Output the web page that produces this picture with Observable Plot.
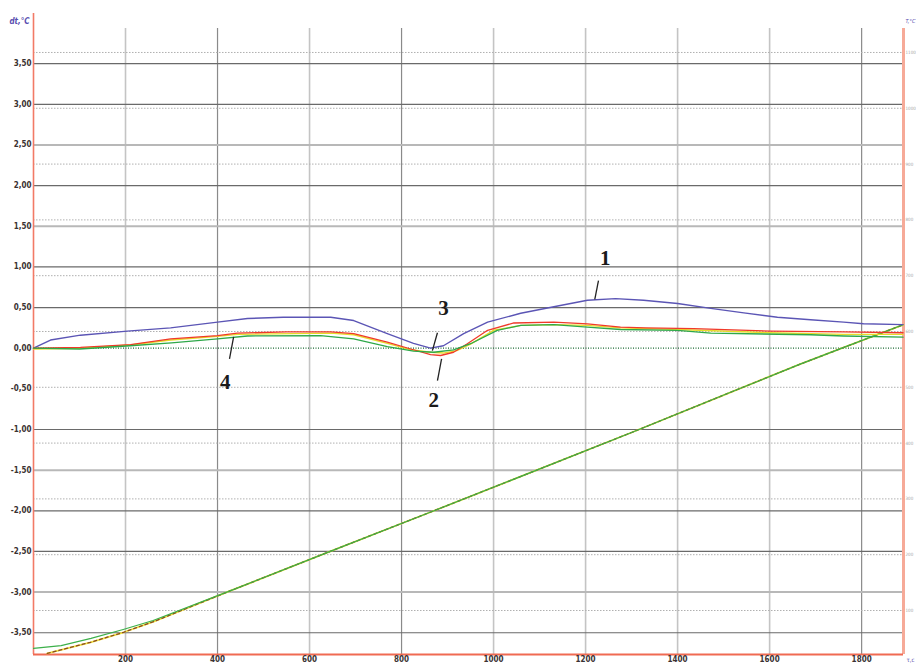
<!DOCTYPE html>
<html>
<head>
<meta charset="utf-8">
<script src="https://cdn.jsdelivr.net/npm/d3@7"></script>
<script src="https://cdn.jsdelivr.net/npm/@observablehq/plot@0.6"></script>
<style>
  html, body { margin: 0; padding: 0; background: #fff; }
  #chart { width: 916px; height: 665px; overflow: hidden; }
</style>
</head>
<body>
<div id="chart"></div>
<script>
// ---- DTA curves (time, s ; dt, °C) ----
const blueS = [0, 37, 102, 204, 298, 400, 465, 543, 646, 696, 769, 826, 863, 891, 935, 987, 1059, 1131, 1204, 1265, 1326, 1400, 1472, 1544, 1617, 1689, 1761, 1804, 1890];
const blueV = [0.00, 0.10, 0.16, 0.21, 0.25, 0.32, 0.365, 0.38, 0.38, 0.34, 0.18, 0.06, 0.00, 0.03, 0.18, 0.32, 0.43, 0.51, 0.59, 0.61, 0.59, 0.55, 0.49, 0.435, 0.38, 0.35, 0.32, 0.30, 0.29];

const redS = [0, 102, 211, 298, 400, 443, 550, 646, 696, 769, 820, 863, 885, 913, 943, 987, 1044, 1131, 1204, 1276, 1330, 1435, 1602, 1761, 1890];
const redV = [0.00, 0.01, 0.045, 0.115, 0.155, 0.185, 0.20, 0.20, 0.18, 0.075, -0.01, -0.08, -0.09, -0.05, 0.055, 0.22, 0.31, 0.32, 0.30, 0.26, 0.25, 0.24, 0.21, 0.20, 0.19];

const yellowS = [0, 102, 211, 298, 400, 443, 646, 696, 769, 820, 863, 891, 920, 950, 1000, 1060, 1131, 1204, 1276, 1400, 1600, 1761, 1890];
const yellowV = [-0.01, 0.00, 0.04, 0.10, 0.145, 0.17, 0.185, 0.165, 0.06, -0.02, -0.05, -0.06, -0.03, 0.05, 0.22, 0.28, 0.29, 0.28, 0.25, 0.23, 0.19, 0.17, 0.17];

const greenS = [0, 100, 210, 300, 400, 465, 624, 696, 769, 826, 870, 913, 950, 1008, 1059, 1131, 1204, 1276, 1400, 1472, 1689, 1761, 1890];
const greenV = [0.00, -0.01, 0.03, 0.065, 0.115, 0.15, 0.155, 0.115, 0.02, -0.035, -0.05, -0.02, 0.055, 0.22, 0.28, 0.29, 0.26, 0.23, 0.22, 0.185, 0.165, 0.15, 0.135];

// ---- temperature curves (time, s ; T, °C) ----
const tempGreenS = [0, 60, 125, 195, 260, 430, 645, 865, 1080, 1300, 1515, 1665, 1760, 1890];
const tempGreenT = [32, 37, 50, 66, 82, 136, 206, 277, 347, 419, 491, 541, 571, 612];
const tempOtherS = [30, 124, 196, 261, 430, 645, 865, 1080, 1300, 1515, 1665, 1760, 1890];
const tempOtherT = [23, 43, 61, 80, 136, 206, 277, 347, 419, 491, 541, 571, 612];

// ---- ticks ----
const xTicks = [200, 400, 600, 800, 1000, 1200, 1400, 1600, 1800];
const yTicks = [-3.5, -3, -2.5, -2, -1.5, -1, -0.5, 0, 0.5, 1, 1.5, 2, 2.5, 3, 3.5];
const yGridDark = [-3.5, -2.5, -2, -1, 0.5, 1, 2, 3, 3.5];
const yGridLight = [-3, -1.5, 1.5, 2.5];
const xGridDark = [400, 800, 1800];
const xGridLight = [200, 600, 1000, 1200, 1400, 1600];
const tTicks = [100, 200, 300, 400, 500, 600, 700, 800, 900, 1000, 1100];

// ---- annotations ----
const noteText = ["1", "2", "3", "4"];
const noteS = [1243, 870, 891, 417];
const noteV = [1.11, -0.64, 0.49, -0.42];
const leadS1 = [1228, 878, 878, 426];
const leadV1 = [0.83, -0.40, 0.19, -0.13];
const leadS2 = [1220, 887, 867, 435];
const leadV2 = [0.60, -0.13, -0.03, 0.14];

// secondary (temperature) axis mapped onto the dt scale
const tToV = t => -3.9127 + t * 0.0068635;

const xDomain = [0, 1891];
const yDomain = [-3.7675, 3.932];

const zip = (xs, ys) => xs.map((x, i) => ({x, y: ys[i]}));
const blue = zip(blueS, blueV), red = zip(redS, redV), yellow = zip(yellowS, yellowV), green = zip(greenS, greenV);
const tGreen = zip(tempGreenS, tempGreenT.map(tToV));
const tOther = zip(tempOtherS, tempOtherT.map(tToV));
const notes = noteText.map((t, i) => ({t, x: noteS[i], y: noteV[i], x1: leadS1[i], y1: leadV1[i], x2: leadS2[i], y2: leadV2[i]}));

const tickFont = {fontFamily: "Liberation Sans Narrow, DejaVu Sans Condensed, sans-serif", fontWeight: "bold", fontSize: 8};

const chart = Plot.plot({
  width: 916,
  height: 665,
  marginLeft: 33,
  marginRight: 13,
  marginTop: 28,
  marginBottom: 11,
  style: {background: "white", fontFamily: "Liberation Sans Narrow, DejaVu Sans Condensed, sans-serif", fontSize: "8px", overflow: "hidden"},
  x: {domain: xDomain},
  y: {domain: yDomain},
  marks: [
    // grids
    Plot.ruleX(xGridLight, {stroke: "#c4c4c4", strokeWidth: 1.6}),
    Plot.ruleX(xGridDark, {stroke: "#8a8a8a", strokeWidth: 1.2}),
    Plot.ruleY(tTicks, {y: t => tToV(t), stroke: "#b0b0b0", strokeWidth: 1, strokeDasharray: "1.5,1.5"}),
    Plot.ruleY(yGridLight, {stroke: "#b8b8b8", strokeWidth: 2}),
    Plot.ruleY(yGridDark, {stroke: "#6a6a6a", strokeWidth: 1.2}),
    Plot.ruleY([0], {stroke: "#1d6b34", strokeWidth: 1.3, strokeDasharray: "1,1.5"}),
    // frame lines
    Plot.ruleX([xDomain[1]], {stroke: "#f6aa98", strokeWidth: 3}),
    Plot.ruleX([xDomain[0]], {stroke: "#f27a66", strokeWidth: 1.6, insetTop: -15}),
    Plot.ruleY([yDomain[0]], {stroke: "#f06a52", strokeWidth: 2}),
    // temperature curves
    Plot.line(tOther, {x: "x", y: "y", stroke: "#f0e040", strokeWidth: 1.8}),
    Plot.line(tOther, {x: "x", y: "y", stroke: "#8a4a20", strokeWidth: 1.3, strokeDasharray: "3,3"}),
    Plot.line(tGreen, {x: "x", y: "y", stroke: "#3cb04a", strokeWidth: 1.2}),
    // DTA curves
    Plot.line(blue, {x: "x", y: "y", stroke: "#5b55b5", strokeWidth: 1.4}),
    Plot.line(yellow, {x: "x", y: "y", stroke: "#e6dc2a", strokeWidth: 1.4}),
    Plot.line(red, {x: "x", y: "y", stroke: "#f03a2a", strokeWidth: 1.3}),
    Plot.line(green, {x: "x", y: "y", stroke: "#2ea84a", strokeWidth: 1.3}),
    // annotations
    Plot.link(notes, {x1: "x1", y1: "y1", x2: "x2", y2: "y2", stroke: "#222", strokeWidth: 1.3}),
    Plot.text(notes, {x: "x", y: "y", text: "t", fontFamily: "Liberation Serif, DejaVu Serif, serif", fontWeight: "bold", fontSize: 21, fill: "#1a1a1a"}),
    // axes
    Plot.axisY(yTicks, {anchor: "left", tickSize: 0, tickPadding: 2, tickFormat: d => d.toFixed(2).replace(".", ","), fill: "#3a3232", ...tickFont}),
    Plot.axisX(xTicks, {anchor: "bottom", tickSize: 0, tickPadding: 2, tickFormat: d => String(d), fill: "#3a3232", ...tickFont}),
    Plot.text(tTicks, {y: t => tToV(t), frameAnchor: "right", dx: 2, textAnchor: "start", text: t => String(t), fill: "#a8a8a8", fontFamily: "Liberation Sans Narrow, DejaVu Sans Condensed, sans-serif", fontSize: 4.5}),
    // axis titles
    Plot.text(["dt,°C"], {frameAnchor: "top-left", dx: -14, dy: -10, textAnchor: "middle", fill: "#5a50b0", fontStyle: "italic", fontWeight: "bold", fontSize: 8}),
    Plot.text(["T,°C"], {frameAnchor: "top-right", dx: 2, dy: -9, textAnchor: "start", fill: "#5a50b0", fontStyle: "italic", fontSize: 5.5}),
    Plot.text(["τ,с"], {frameAnchor: "bottom-right", dx: 3, dy: 7, textAnchor: "start", fill: "#5a50b0", fontSize: 6})
  ]
});
document.getElementById("chart").appendChild(chart);
</script>
</body>
</html>
